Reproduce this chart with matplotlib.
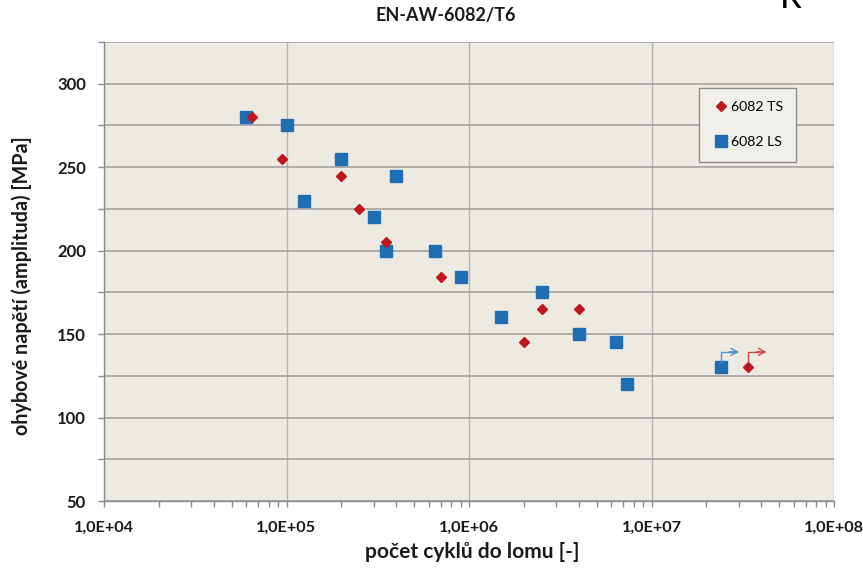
import numpy as np
import matplotlib
matplotlib.use("Agg")
import matplotlib.pyplot as plt
import matplotlib.ticker as mticker
import matplotlib.transforms as mtransforms

plt.rcParams['font.family'] = ['Lato', 'DejaVu Sans']

# Fatigue test results (cycles to failure, bending stress amplitude in MPa)
ts_cycles = [6.5e4, 9.5e4, 2.0e5, 2.5e5, 3.5e5, 7.0e5, 2.0e6, 2.5e6, 4.0e6]
ts_stress = [280, 255, 245, 225, 205, 184, 145, 165, 165]
ls_cycles = [6.0e4, 1.0e5, 2.0e5, 1.25e5, 4.0e5, 3.0e5, 3.5e5, 6.5e5, 9.0e5,
             1.5e6, 2.5e6, 4.0e6, 6.4e6, 7.3e6]
ls_stress = [280, 275, 255, 230, 245, 220, 200, 200, 184,
             160, 175, 150, 145, 120]
# Run-outs (specimens that did not fail)
ts_runout_cycles = [3.4e7]
ts_runout_stress = [130]
ls_runout_cycles = [2.4e7]
ls_runout_stress = [130]

series_labels = ['6082 TS', '6082 LS']
title_text = 'EN-AW-6082/T6'
xlabel_text = 'počet cyklů do lomu [-]'
ylabel_text = 'ohybové napětí (amplituda) [MPa]'

RED = '#C0161E'
BLUE = '#1F6DB2'
RED_ARROW = '#D04848'
BLUE_ARROW = '#4F93CC'
BG = '#EDEAE1'
GRID = '#A3A3A3'

W, H = 863, 569
fig = plt.figure(figsize=(W / 100, H / 100), dpi=100)
ax = fig.add_axes([104 / W, 1 - 501 / H, (834 - 104) / W, (501 - 42) / H])
ax.set_facecolor(BG)

ax.set_xscale('log')
ax.set_xlim(1e4, 1e8)
ax.set_ylim(50, 325)

ax.yaxis.set_major_locator(mticker.MultipleLocator(50))
ax.yaxis.set_minor_locator(mticker.MultipleLocator(25))
ax.xaxis.set_major_locator(mticker.LogLocator(base=10, numticks=10))
ax.xaxis.set_minor_locator(mticker.LogLocator(base=10, subs=np.arange(2, 10), numticks=20))
ax.xaxis.set_minor_formatter(mticker.NullFormatter())
ax.xaxis.set_major_formatter(
    mticker.FuncFormatter(lambda v, p: '1,0E+%02d' % int(round(np.log10(v)))))

ax.grid(True, axis='y', which='both', color=GRID, lw=1.2)
ax.grid(True, axis='x', which='major', color='#B4B4B4', lw=1.0)
ax.set_axisbelow(True)

for s in ['top', 'right']:
    ax.spines[s].set_visible(False)
for s in ['left', 'bottom']:
    ax.spines[s].set_color('#8C8C8C')
    ax.spines[s].set_linewidth(1.0)

ax.tick_params(axis='both', which='both', direction='out', color='#8C8C8C',
               length=4, width=1)
ax.tick_params(axis='y', which='major', pad=9, labelsize=12)
ax.tick_params(axis='x', which='major', pad=10, labelsize=11.7)
for lab in ax.get_xticklabels() + ax.get_yticklabels():
    lab.set_fontweight('bold')
    lab.set_color('#1A1A1A')

ax.plot(ts_cycles, ts_stress, ls='none', marker='D', ms=5.6, color=RED,
        mec=RED, label=series_labels[0], zorder=4)
ax.plot(ls_cycles, ls_stress, ls='none', marker='s', ms=8, color=BLUE,
        mec=BLUE, label=series_labels[1], zorder=3)
ax.plot(ts_runout_cycles, ts_runout_stress, ls='none', marker='D', ms=5.6,
        color=RED, mec=RED, zorder=4)
ax.plot(ls_runout_cycles, ls_runout_stress, ls='none', marker='s', ms=8,
        color=BLUE, mec=BLUE, zorder=3)


def runout_arrow(n, s, color):
    # bent arrow drawn in points relative to the run-out marker
    tr = mtransforms.Affine2D().scale(fig.dpi / 72.0) + \
        mtransforms.ScaledTranslation(n, s, ax.transData)
    ax.plot([0, 0, 11.5], [3.8, 11.3, 11.3], color=color, lw=1.0,
            transform=tr, solid_joinstyle='miter', zorder=5)
    ax.annotate('', xy=(12.8, 11.3), xycoords=tr, xytext=(6, 11.3),
                textcoords=tr,
                arrowprops=dict(arrowstyle='->,head_length=0.45,head_width=0.25',
                                color=color, lw=1.0, shrinkA=0, shrinkB=0),
                zorder=5)


for n, s in zip(ls_runout_cycles, ls_runout_stress):
    runout_arrow(n, s, BLUE_ARROW)
for n, s in zip(ts_runout_cycles, ts_runout_stress):
    runout_arrow(n, s, RED_ARROW)

leg = ax.legend(loc='upper left', bbox_to_anchor=(699 / W, 1 - 88 / H),
                bbox_transform=fig.transFigure, borderaxespad=0,
                fontsize=10.2, frameon=True, fancybox=False,
                labelspacing=1.6, borderpad=0.95, handletextpad=0.1,
                handlelength=1.2)
leg.get_frame().set_facecolor('#F1EFEA')
leg.get_frame().set_edgecolor('#8C8C8C')
leg.get_frame().set_linewidth(1.0)
leg.get_frame().set_alpha(1)

fig.text(446 / W, 1 - 15 / H, title_text, ha='center', va='center',
         fontsize=13, fontweight='bold', color='#1A1A1A')
fig.text(472 / W, 1 - 552 / H, xlabel_text, ha='center', va='center',
         fontsize=15, fontweight='bold', color='#1A1A1A')
fig.text(22 / W, 1 - 286 / H, ylabel_text, ha='center', va='center',
         rotation=90, fontsize=14.2, fontweight='bold', color='#1A1A1A')
fig.text(780 / W, 1 - 8 / H, 'R =', ha='left', va='baseline',
         fontsize=25, color='black')

fig.savefig('out.png', dpi=100)
